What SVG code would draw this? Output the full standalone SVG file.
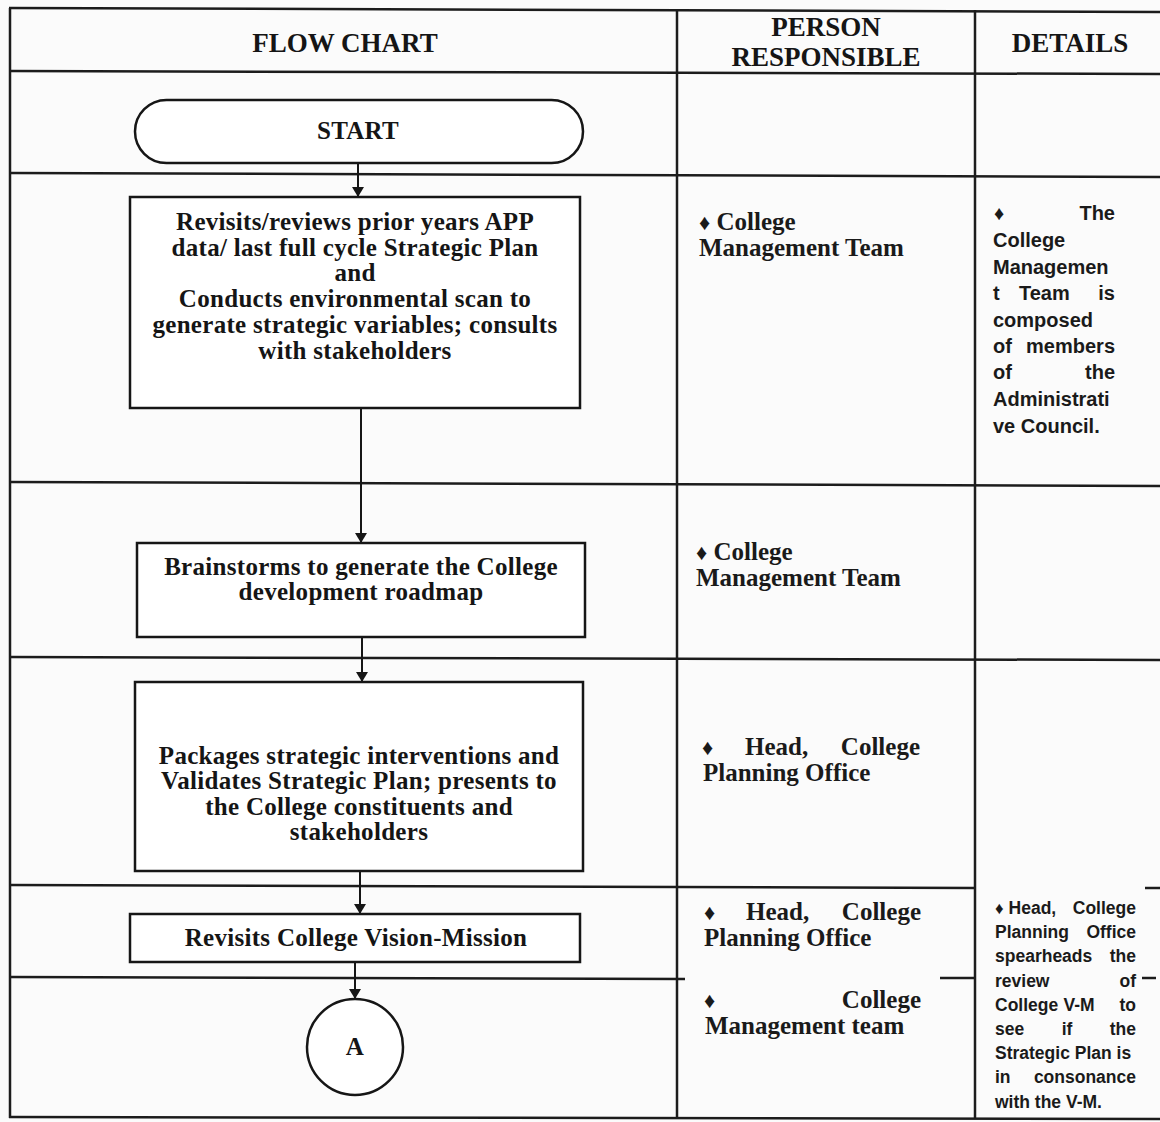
<svg xmlns="http://www.w3.org/2000/svg" width="1160" height="1122" viewBox="0 0 1160 1122">
<style>
.bg{fill:#fbfbfb}
.grid{stroke:#1c1c1c;stroke-width:2.5;fill:none}
.node{fill:#ffffff;stroke:#161616;stroke-width:2.5}
.hdr{font-family:"Liberation Serif",serif;font-weight:bold;font-size:27px;fill:#151515;text-anchor:middle}
.ft{font-family:"Liberation Serif",serif;font-weight:bold;font-size:25px;letter-spacing:0.3px;fill:#151515;text-anchor:middle}
.pr{font-family:"Liberation Serif",serif;font-weight:bold;font-size:25px;fill:#1a1a1a}
.dt{font-family:"Liberation Sans",sans-serif;font-weight:bold;font-size:20px;fill:#1a1a1a}
.ds{font-family:"Liberation Sans",sans-serif;font-weight:bold;font-size:17.5px;fill:#1a1a1a}
.end{text-anchor:end}
.mid{text-anchor:middle}
.b{font-size:22px}
.conn{stroke:#161616;stroke-width:2;fill:none}
</style>
<defs>
<marker id="ah" viewBox="0 0 10 12" refX="10" refY="6" markerWidth="10" markerHeight="12" markerUnits="userSpaceOnUse" orient="auto">
<path d="M0,0 L10,6 L0,12 Z" fill="#161616"/>
</marker>
</defs>
<rect class="bg" x="0" y="0" width="1160" height="1122"/>
<g id="table">
<line class="grid" x1="9" y1="8" x2="1160" y2="12" stroke-width="3"/>
<line class="grid" x1="9" y1="71" x2="1160" y2="74" stroke-width="3.5"/>
<line class="grid" x1="9" y1="173" x2="1160" y2="177"/>
<line class="grid" x1="9" y1="482" x2="1160" y2="486"/>
<line class="grid" x1="9" y1="657" x2="1160" y2="660"/>
<line class="grid" x1="9" y1="885" x2="975" y2="888"/>
<line class="grid" x1="1145" y1="888" x2="1160" y2="888"/>
<line class="grid" x1="9" y1="977" x2="685" y2="979"/>
<line class="grid" x1="940" y1="978" x2="975" y2="978"/>
<line class="grid" x1="1142" y1="978" x2="1156" y2="978"/>
<line class="grid" x1="9" y1="1117" x2="1160" y2="1119" stroke-width="3"/>
<line class="grid" x1="10" y1="8" x2="10" y2="1118"/>
<line class="grid" x1="677" y1="9" x2="677" y2="1118"/>
<line class="grid" x1="975" y1="10" x2="975" y2="1118"/>
</g>
<g id="header">
<text class="hdr" x="345" y="52">FLOW CHART</text>
<text class="hdr" x="826" y="36">PERSON</text>
<text class="hdr" x="826" y="66">RESPONSIBLE</text>
<text class="hdr" x="1070" y="52">DETAILS</text>
</g>
<g id="connectors">
<line class="conn" x1="358" y1="163" x2="358" y2="197" marker-end="url(#ah)"/>
<line class="conn" x1="361" y1="408" x2="361" y2="543" marker-end="url(#ah)"/>
<line class="conn" x1="362" y1="637" x2="362" y2="682" marker-end="url(#ah)"/>
<line class="conn" x1="360" y1="871" x2="360" y2="914" marker-end="url(#ah)"/>
<line class="conn" x1="355" y1="962" x2="355" y2="999" marker-end="url(#ah)"/>
</g>
<g id="start">
<rect class="node" x="135" y="100" width="448" height="63" rx="31.5" ry="31.5"/>
<text class="ft" x="358" y="139" font-size="22">START</text>
</g>
<g id="step1">
<rect class="node" x="130" y="197" width="450" height="211"/>
<text class="ft" x="355" y="230">Revisits/reviews prior years APP</text>
<text class="ft" x="355" y="256">data/ last full cycle Strategic Plan</text>
<text class="ft" x="355" y="281">and</text>
<text class="ft" x="355" y="307">Conducts environmental scan to</text>
<text class="ft" x="355" y="333">generate strategic variables; consults</text>
<text class="ft" x="355" y="359">with stakeholders</text>
</g>
<g id="step2">
<rect class="node" x="137" y="543" width="448" height="94"/>
<text class="ft" x="361" y="575">Brainstorms to generate the College</text>
<text class="ft" x="361" y="600">development roadmap</text>
</g>
<g id="step3">
<rect class="node" x="135" y="682" width="448" height="189"/>
<text class="ft" x="359" y="764">Packages strategic interventions and</text>
<text class="ft" x="359" y="789">Validates Strategic Plan; presents to</text>
<text class="ft" x="359" y="815">the College constituents and</text>
<text class="ft" x="359" y="840">stakeholders</text>
</g>
<g id="step4">
<rect class="node" x="130" y="914" width="450" height="48"/>
<text class="ft" x="356" y="946">Revisits College Vision-Mission</text>
</g>
<g id="connector-a">
<circle class="node" cx="355" cy="1047" r="48"/>
<text class="ft" x="355" y="1055" font-size="22">A</text>
</g>
<g id="person">
<text class="pr" x="699" y="230"><tspan class="b">♦</tspan> College</text>
<text class="pr" x="699" y="256">Management Team</text>
<text class="pr" x="696" y="560"><tspan class="b">♦</tspan> College</text>
<text class="pr" x="696" y="586">Management Team</text>
<text class="pr b" x="702" y="755">♦</text>
<text class="pr" x="745" y="755">Head,</text>
<text class="pr end" x="920" y="755">College</text>
<text class="pr" x="703" y="781">Planning Office</text>
<text class="pr b" x="704" y="920">♦</text>
<text class="pr" x="746" y="920">Head,</text>
<text class="pr end" x="921" y="920">College</text>
<text class="pr" x="704" y="946">Planning Office</text>
<text class="pr b" x="704" y="1008">♦</text>
<text class="pr end" x="921" y="1008">College</text>
<text class="pr" x="705" y="1034">Management team</text>
</g>
<g id="details">
<text class="dt" x="994" y="220" font-size="22">♦</text>
<text class="dt end" x="1115" y="220">The</text>
<text class="dt" x="993" y="247">College</text>
<text class="dt" x="993" y="274">Managemen</text>
<text class="dt" x="993" y="300">t</text>
<text class="dt" x="1019" y="300">Team</text>
<text class="dt end" x="1115" y="300">is</text>
<text class="dt" x="993" y="327">composed</text>
<text class="dt" x="993" y="353">of</text>
<text class="dt end" x="1115" y="353">members</text>
<text class="dt" x="993" y="379">of</text>
<text class="dt end" x="1115" y="379">the</text>
<text class="dt" x="993" y="406">Administrati</text>
<text class="dt" x="993" y="433">ve Council.</text>
<text class="ds" x="995" y="914"><tspan font-size="17">♦</tspan> Head,</text>
<text class="ds end" x="1136" y="914">College</text>
<text class="ds" x="995" y="938">Planning</text>
<text class="ds end" x="1136" y="938">Office</text>
<text class="ds" x="995" y="962">spearheads</text>
<text class="ds end" x="1136" y="962">the</text>
<text class="ds" x="995" y="987">review</text>
<text class="ds end" x="1136" y="987">of</text>
<text class="ds" x="995" y="1011">College</text>
<text class="ds mid" x="1079" y="1011">V-M</text>
<text class="ds end" x="1136" y="1011">to</text>
<text class="ds" x="995" y="1035">see</text>
<text class="ds mid" x="1067" y="1035">if</text>
<text class="ds end" x="1136" y="1035">the</text>
<text class="ds" x="995" y="1059">Strategic Plan is</text>
<text class="ds" x="995" y="1083">in</text>
<text class="ds end" x="1136" y="1083">consonance</text>
<text class="ds" x="995" y="1108">with the V-M.</text>
</g>
</svg>
